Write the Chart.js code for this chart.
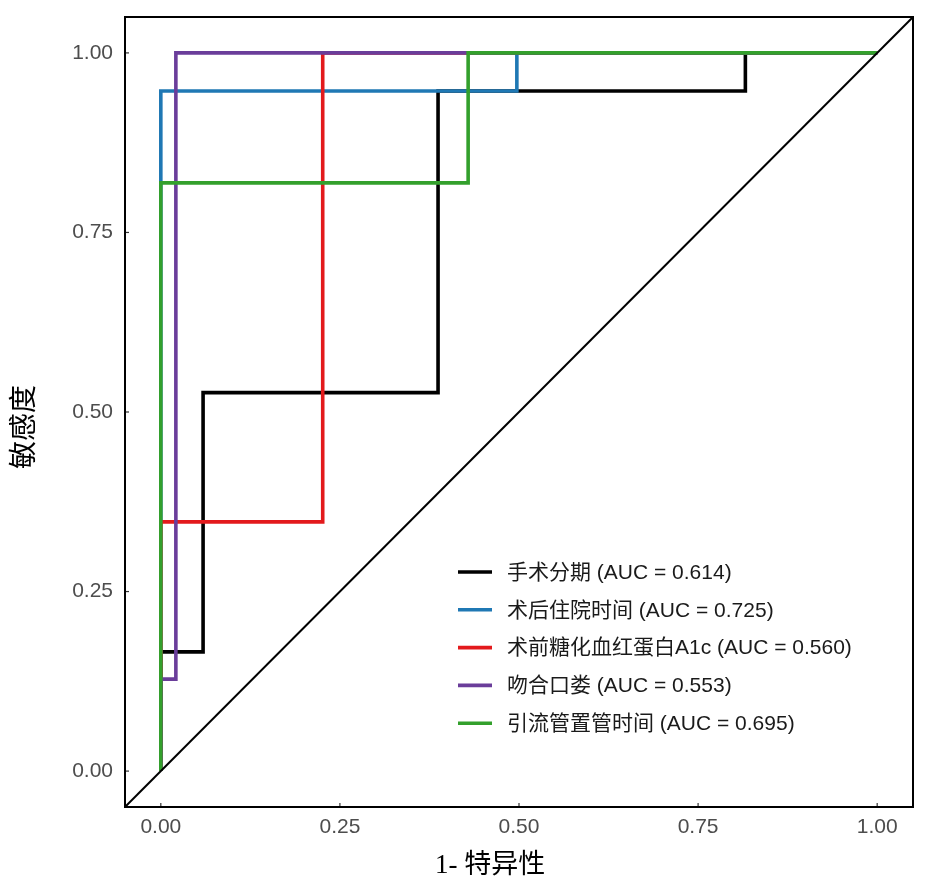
<!DOCTYPE html>
<html>
<head>
<meta charset="utf-8">
<script src="https://cdn.jsdelivr.net/npm/chart.js@4"></script>
<style>
  html, body { margin: 0; padding: 0; background: #ffffff; }
  #wrap { width: 926px; height: 885px; }
  canvas { display: block; }
</style>
</head>
<body>
<div id="wrap"><canvas id="c" width="926" height="885"></canvas></div>
<script>
// ---------------- data ----------------
const seriesNames = ['手术分期', '术后住院时间', '术前糖化血红蛋白A1c', '吻合口娄', '引流管置管时间'];
const aucValues = [0.614, 0.725, 0.560, 0.553, 0.695];
const seriesColors = ['#000000', '#1f78b4', '#e31a1c', '#6a3d9a', '#33a02c'];

// ROC points (1 - specificity, sensitivity) for each predictor
const fprStage = [0, 0, 0.059, 0.059, 0.387, 0.387, 0.816, 0.816, 1];
const tprStage = [0, 0.166, 0.166, 0.527, 0.527, 0.947, 0.947, 1, 1];

const fprStay = [0, 0, 0.497, 0.497, 1];
const tprStay = [0, 0.947, 0.947, 1, 1];

const fprHbA1c = [0, 0, 0.226, 0.226, 1];
const tprHbA1c = [0, 0.347, 0.347, 1, 1];

const fprLeak = [0, 0, 0.021, 0.021, 1];
const tprLeak = [0, 0.128, 0.128, 1, 1];

const fprDrain = [0, 0, 0.429, 0.429, 1];
const tprDrain = [0, 0.819, 0.819, 1, 1];

const axisMin = -0.05;
const axisMax = 1.05;
const tickValues = [0, 0.25, 0.5, 0.75, 1];
const xTitle = '1- 特异性';
const yTitle = '敏感度';

// --------------- build datasets ---------------
const fprList = [fprStage, fprStay, fprHbA1c, fprLeak, fprDrain];
const tprList = [tprStage, tprStay, tprHbA1c, tprLeak, tprDrain];

function pts(xs, ys) { return xs.map((x, i) => ({ x: x, y: ys[i] })); }

const datasets = seriesNames.map((name, i) => ({
  label: name + ' (AUC = ' + aucValues[i].toFixed(3) + ')',
  data: pts(fprList[i], tprList[i]),
  borderColor: seriesColors[i],
  backgroundColor: seriesColors[i],
  borderWidth: 3.6,
  pointRadius: 0,
  showLine: true,
  fill: false,
  tension: 0,
  borderJoinStyle: 'miter',
  borderCapStyle: 'butt',
  order: 6 - i,
  isSeries: true
}));

// reference diagonal y = x across the axis range
datasets.push({
  label: 'ref',
  data: pts([axisMin, axisMax], [axisMin, axisMax]),
  borderColor: '#000000',
  borderWidth: 2,
  pointRadius: 0,
  showLine: true,
  fill: false,
  order: 0,
  isSeries: false
});

// --------------- plugins ---------------
const framePlugin = {
  id: 'frame',
  afterDatasetsDraw(chart) {
    const ctx = chart.ctx;
    const a = chart.chartArea;
    const xs = chart.scales.x, ys = chart.scales.y;
    ctx.save();
    // inward tick marks
    ctx.strokeStyle = '#333333';
    ctx.lineWidth = 1.2;
    tickValues.forEach(v => {
      const px = xs.getPixelForValue(v);
      ctx.beginPath(); ctx.moveTo(px, a.bottom); ctx.lineTo(px, a.bottom - 4); ctx.stroke();
      const py = ys.getPixelForValue(v);
      ctx.beginPath(); ctx.moveTo(a.left, py); ctx.lineTo(a.left + 4, py); ctx.stroke();
    });
    // panel border
    ctx.strokeStyle = '#000000';
    ctx.lineWidth = 2;
    ctx.strokeRect(a.left, a.top, a.right - a.left, a.bottom - a.top);
    ctx.restore();
  },
  afterDraw(chart) {
    const ctx = chart.ctx;
    ctx.save();
    // legend inside the panel
    const series = chart.data.datasets.filter(d => d.isSeries);
    const x0 = 458, x1 = 492, tx = 507, y0 = 572, dy = 37.8;
    ctx.font = '21px "Liberation Sans", "Noto Sans CJK SC", sans-serif';
    ctx.textBaseline = 'middle';
    ctx.textAlign = 'left';
    series.forEach((d, i) => {
      const y = y0 + i * dy;
      ctx.strokeStyle = d.borderColor;
      ctx.lineWidth = 3.6;
      ctx.beginPath(); ctx.moveTo(x0, y); ctx.lineTo(x1, y); ctx.stroke();
      ctx.fillStyle = '#1a1a1a';
      ctx.fillText(d.label, tx, y + 1);
    });
    // axis titles
    ctx.fillStyle = '#000000';
    ctx.font = '27px "Liberation Serif", "Noto Sans CJK SC", serif';
    ctx.textAlign = 'left';
    ctx.textBaseline = 'middle';
    ctx.fillText(xTitle, 435, 866);
    ctx.translate(26, 427);
    ctx.rotate(-Math.PI / 2);
    ctx.textAlign = 'center';
    ctx.font = '28px "Liberation Serif", "Noto Sans CJK SC", serif';
    ctx.fillText(yTitle, 0, 0);
    ctx.restore();
  }
};

const tickFont = { family: '"Liberation Sans", Arial, sans-serif', size: 21 };

new Chart(document.getElementById('c'), {
  type: 'scatter',
  data: { datasets: datasets },
  options: {
    responsive: false,
    animation: false,
    events: [],
    layout: { padding: { top: 17, right: 13, left: 0, bottom: 0 } },
    plugins: { legend: { display: false }, tooltip: { enabled: false } },
    scales: {
      x: {
        type: 'linear',
        min: axisMin, max: axisMax,
        grid: { display: false, drawTicks: false },
        border: { display: false },
        afterBuildTicks: s => { s.ticks = tickValues.map(v => ({ value: v })); },
        afterFit: s => { s.height = 78; s.paddingLeft = 0; s.paddingRight = 0; s.paddingTop = 0; s.paddingBottom = 0; },
        ticks: {
          color: '#4d4d4d', font: tickFont, padding: 8, maxRotation: 0, autoSkip: false,
          callback: v => Number(v).toFixed(2)
        }
      },
      y: {
        type: 'linear',
        min: axisMin, max: axisMax,
        grid: { display: false, drawTicks: false },
        border: { display: false },
        afterBuildTicks: s => { s.ticks = tickValues.map(v => ({ value: v })); },
        afterFit: s => { s.width = 125; s.paddingTop = 0; s.paddingBottom = 0; s.paddingLeft = 0; s.paddingRight = 0; },
        ticks: {
          color: '#4d4d4d', font: tickFont, padding: 12, autoSkip: false,
          callback: v => Number(v).toFixed(2)
        }
      }
    }
  },
  plugins: [framePlugin]
});
</script>
</body>
</html>
